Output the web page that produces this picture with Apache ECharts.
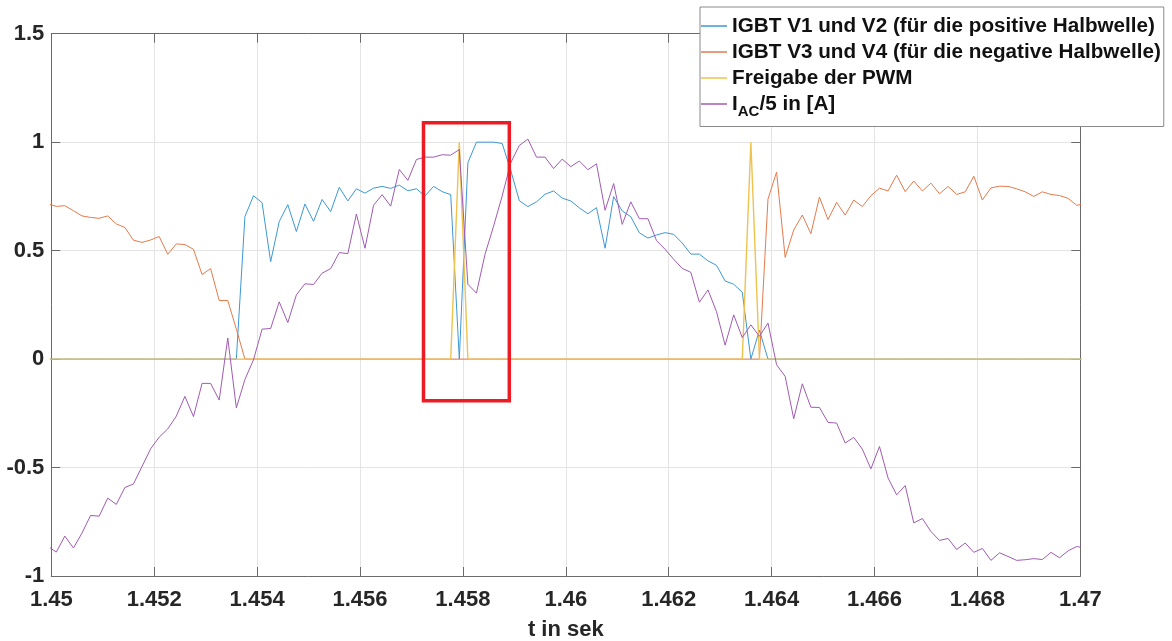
<!DOCTYPE html>
<html>
<head>
<meta charset="utf-8">
<title>IGBT-Ansteuerung und Netzstrom</title>
<script src="https://cdn.jsdelivr.net/npm/echarts@6/dist/echarts.min.js"></script>
<style>
  html, body { margin: 0; padding: 0; background: #ffffff; }
  #chart { width: 1172px; height: 641px; }
</style>
</head>
<body>
<div id="chart"></div>
<script>
// Time base of the recorded samples (6 kHz control loop)
const SAMPLE_START = 1.44993;   // time of the first stored sample in s
const SAMPLE_STEP = 1 / 6000;   // sample period in s

// Gate signal IGBT V1/V2 (positive half wave)
const igbtV1V2 = [
  0, 0, 0, 0, 0, 0, 0, 0, 0, 0, 0, 0, 0, 0, 0, 0, 0, 0, 0, 0, 0, 0, 0,
  0.657, 0.753, 0.721, 0.449, 0.634, 0.712, 0.588, 0.715, 0.635, 0.736,
  0.680, 0.792, 0.729, 0.785, 0.765, 0.788, 0.796, 0.787, 0.802, 0.776,
  0.785, 0.752, 0.796, 0.772, 0.758, 0, 0.905, 1.0, 1.0, 1.0,
  0.994, 0.870, 0.730, 0.703, 0.725, 0.760, 0.775, 0.742, 0.729, 0.697,
  0.670, 0.698, 0.511, 0.749, 0.683, 0.656, 0.582, 0.558, 0.572, 0.583,
  0.575, 0.535, 0.484, 0.484, 0.453, 0.432, 0.360, 0.345, 0.308, 0,
  0.133,
  0, 0, 0, 0, 0, 0, 0, 0, 0, 0, 0, 0, 0, 0, 0, 0, 0, 0, 0,
  0, 0, 0, 0, 0, 0, 0, 0, 0, 0, 0, 0, 0, 0, 0, 0, 0, 0, 0
];

// Gate signal IGBT V3/V4 (negative half wave)
const igbtV3V4 = [
  0.716, 0.704, 0.707, 0.684, 0.660, 0.653, 0.649, 0.660, 0.623, 0.607,
  0.548, 0.538, 0.549, 0.565, 0.483, 0.531, 0.528, 0.506, 0.390, 0.417,
  0.270, 0.270, 0.138,
  0, 0, 0, 0, 0, 0, 0, 0, 0, 0, 0, 0, 0, 0, 0, 0, 0, 0, 0, 0,
  0, 0, 0, 0, 0, 0, 0, 0, 0, 0, 0, 0, 0, 0, 0, 0, 0, 0, 0, 0,
  0, 0, 0, 0, 0, 0, 0, 0, 0, 0, 0, 0, 0, 0, 0, 0, 0, 0, 0, 0,
  0,
  0.738, 0.862, 0.469, 0.595, 0.664, 0.578, 0.747, 0.643, 0.722, 0.664,
  0.733, 0.703, 0.753, 0.788, 0.775, 0.848, 0.772, 0.821, 0.775, 0.811,
  0.762, 0.796, 0.759, 0.771, 0.843, 0.733, 0.789, 0.797, 0.796, 0.785,
  0.771, 0.750, 0.771, 0.759, 0.754, 0.741, 0.709, 0.716
];

// PWM enable flag
const pwmEnable = [
  0, 0, 0, 0, 0, 0, 0, 0, 0, 0, 0, 0, 0, 0, 0, 0, 0, 0, 0, 0,
  0, 0, 0, 0, 0, 0, 0, 0, 0, 0, 0, 0, 0, 0, 0, 0, 0, 0, 0, 0,
  0, 0, 0, 0, 0, 0, 0, 0, 1, 0, 0, 0, 0, 0, 0, 0, 0, 0, 0, 0,
  0, 0, 0, 0, 0, 0, 0, 0, 0, 0, 0, 0, 0, 0, 0, 0, 0, 0, 0, 0,
  0, 0, 1, 0, 0, 0, 0, 0, 0, 0, 0, 0, 0, 0, 0, 0, 0, 0, 0, 0,
  0, 0, 0, 0, 0, 0, 0, 0, 0, 0, 0, 0, 0, 0, 0, 0, 0, 0, 0, 0,
  0, 0
];

// Grid current divided by 5, in A
const currentAc = [
  -0.862, -0.890, -0.816, -0.871, -0.802, -0.721, -0.724, -0.641, -0.670, -0.592,
  -0.576, -0.495, -0.414, -0.360, -0.322, -0.263, -0.172, -0.265, -0.112, -0.112,
  -0.189, 0.097, -0.225, -0.094, -0.003, 0.138, 0.141, 0.264, 0.168, 0.296,
  0.347, 0.344, 0.396, 0.417, 0.491, 0.486, 0.669, 0.511, 0.709, 0.758,
  0.705, 0.874, 0.824, 0.920, 0.931, 0.931, 0.942, 0.940, 0.966, 0.345,
  0.304, 0.483, 0.613, 0.752, 0.905, 0.985, 1.014, 0.931, 0.931, 0.878,
  0.922, 0.887, 0.913, 0.873, 0.900, 0.686, 0.809, 0.621, 0.725, 0.647,
  0.647, 0.546, 0.506, 0.460, 0.418, 0.400, 0.262, 0.319, 0.218, 0.064,
  0.204, 0.099, 0.158, 0.105, 0.166, -0.026, -0.080, -0.275, -0.114, -0.222,
  -0.223, -0.292, -0.295, -0.387, -0.361, -0.415, -0.506, -0.403, -0.548, -0.626,
  -0.583, -0.755, -0.735, -0.795, -0.836, -0.827, -0.878, -0.848, -0.891, -0.873,
  -0.928, -0.893, -0.910, -0.928, -0.925, -0.920, -0.924, -0.891, -0.916, -0.884,
  -0.864, -0.872
];

const seriesNames = [
  'IGBT V1 und V2 (für die positive Halbwelle)',
  'IGBT V3 und V4 (für die negative Halbwelle)',
  'Freigabe der PWM',
  'IAC/5 in [A]'
];
const seriesColors = ['#3d98d4', '#e47a4c', '#efc24e', '#a05bb1'];
const seriesWidths = [1, 1, 1.4, 1];

const xTickLabels = ['1.45', '1.452', '1.454', '1.456', '1.458', '1.46', '1.462', '1.464', '1.466', '1.468', '1.47'];
const yTickLabels = ['-1', '-0.5', '0', '0.5', '1', '1.5'];

// Switching instant marked with a frame: [t, value] corners
const highlightBox = [[1.457234, -0.192], [1.458902, 1.089]];

const X_MIN = 1.45, X_MAX = 1.47, X_STEP = 0.002;
const Y_MIN = -1, Y_MAX = 1.5, Y_STEP = 0.5;

const FONT = '"Liberation Sans", Arial, Helvetica, sans-serif';
const AXIS_COLOR = '#6a6a6a';
const GRID_COLOR = '#e4e4e4';
const LABEL_COLOR = '#262626';

function toPoints(values) {
  return values.map((v, i) => [SAMPLE_START + i * SAMPLE_STEP, v]);
}

const chart = echarts.init(document.getElementById('chart'), null, { renderer: 'canvas' });

const baseX = {
  type: 'value', min: X_MIN, max: X_MAX, interval: X_STEP,
  axisLine: { show: true, onZero: false, lineStyle: { color: AXIS_COLOR, width: 1 } },
  axisTick: { show: true, inside: true, length: 9, lineStyle: { color: AXIS_COLOR, width: 1 } }
};
const baseY = {
  type: 'value', min: Y_MIN, max: Y_MAX, interval: Y_STEP,
  axisLine: { show: true, onZero: false, lineStyle: { color: AXIS_COLOR, width: 1 } },
  axisTick: { show: true, inside: true, length: 9, lineStyle: { color: AXIS_COLOR, width: 1 } }
};

const lineSeries = [igbtV1V2, igbtV3V4, pwmEnable, currentAc].map((values, i) => ({
  name: seriesNames[i],
  type: 'line',
  xAxisIndex: 0,
  yAxisIndex: 0,
  data: toPoints(values),
  showSymbol: false,
  symbol: 'none',
  clip: true,
  animation: false,
  color: seriesColors[i],
  lineStyle: { width: seriesWidths[i], color: seriesColors[i] },
  z: 3 + i
}));

lineSeries[3].markArea = {
  silent: true,
  z: 20,
  itemStyle: { color: 'rgba(0,0,0,0)', borderColor: '#ED1C24', borderWidth: 3.5 },
  data: [[{ coord: highlightBox[0] }, { coord: highlightBox[1] }]]
};

chart.setOption({
  animation: false,
  backgroundColor: '#ffffff',
  grid: {
    left: 51.3, right: 91.7, top: 33.7, bottom: 65,
    containLabel: false,
    outerBoundsMode: 'none'
  },
  xAxis: [
    Object.assign({}, baseX, {
      position: 'bottom',
      axisLabel: {
        show: true, margin: 13, fontSize: 22, fontWeight: 'bold', color: LABEL_COLOR, fontFamily: FONT,
        formatter: v => xTickLabels[Math.round((v - X_MIN) / X_STEP)]
      },
      splitLine: { show: true, lineStyle: { color: GRID_COLOR, width: 1 } },
      name: 't in sek',
      nameLocation: 'middle',
      nameGap: 43,
      nameTextStyle: { fontSize: 22, fontWeight: 'bold', color: LABEL_COLOR, fontFamily: FONT }
    }),
    Object.assign({}, baseX, {
      position: 'top',
      axisLabel: { show: false },
      splitLine: { show: false }
    })
  ],
  yAxis: [
    Object.assign({}, baseY, {
      position: 'left',
      axisLabel: {
        show: true, margin: 7, fontSize: 22, fontWeight: 'bold', color: LABEL_COLOR, fontFamily: FONT,
        formatter: v => yTickLabels[Math.round((v - Y_MIN) / Y_STEP)]
      },
      splitLine: { show: true, lineStyle: { color: GRID_COLOR, width: 1 } }
    }),
    Object.assign({}, baseY, {
      position: 'right',
      axisLabel: { show: false },
      splitLine: { show: false }
    })
  ],
  legend: {
    show: true,
    orient: 'vertical',
    left: 700,
    top: 7,
    icon: 'rect',
    itemWidth: 26,
    itemHeight: 1.5,
    itemGap: 4,
    padding: [8, 3, 7, 1],
    backgroundColor: '#ffffff',
    borderColor: '#8a8a8a',
    borderWidth: 1,
    selectedMode: false,
    data: seriesNames,
    formatter: name => name === seriesNames[3] ? '{b|I}{s|AC}{b|/5 in [A]}' : name,
    textStyle: {
      fontSize: 20.7, fontWeight: 'bold', color: '#111111', fontFamily: FONT, lineHeight: 22,
      rich: {
        b: { fontSize: 20.7, fontWeight: 'bold', color: '#111111', fontFamily: FONT, lineHeight: 22 },
        s: { fontSize: 15, fontWeight: 'bold', color: '#111111', fontFamily: FONT, padding: [16, 0, 0, 0] }
      }
    }
  },
  series: lineSeries
});
</script>
</body>
</html>
